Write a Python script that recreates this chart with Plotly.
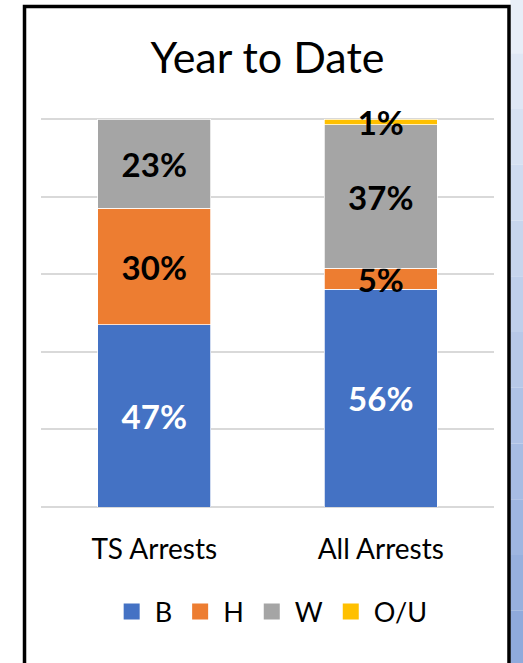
"""Year to Date arrests breakdown, stacked 100% columns."""

import plotly.graph_objects as go

categories = ['TS Arrests', 'All Arrests']
series_names = ['B', 'H', 'W', 'O/U']
b_values = [47, 56.1]
h_values = [30, 5.4]
w_values = [23, 37.1]
ou_values = [None, 1.4]

colors = ['#4472c4', '#ed7d31', '#a5a5a5', '#ffc000']
label_colors = ['white', 'black', 'black', 'black']

fig = go.Figure()
for name, vals, color, lab_color in zip(series_names,
                                        [b_values, h_values, w_values, ou_values],
                                        colors, label_colors):
    fig.add_trace(go.Bar(
        x=categories,
        y=vals,
        name=name,
        showlegend=False,
        marker=dict(color=color, line=dict(color='white', width=0.75)),
        texttemplate='%{y:.0f}%',
        textposition='inside',
        insidetextanchor='middle',
        constraintext='none',
        cliponaxis=False,
        textfont=dict(family='Lato', size=33, color=lab_color, weight='bold'),
    ))

# legend entries with bigger square swatches
for name, color in zip(series_names, colors):
    fig.add_trace(go.Scatter(
        x=[None], y=[None], mode='markers', name=name,
        marker=dict(symbol='square', size=18, color=color),
    ))

# light blue slide background strip on the right (rough gradient)
n_bands = 12
top, bottom = 1.31, -0.41
for i in range(n_bands):
    t = i / (n_bands - 1)
    r = int(232 + (143 - 232) * t)
    g = int(238 + (170 - 238) * t)
    b = int(248 + (220 - 248) * t)
    fig.add_shape(type='rect', xref='paper', yref='paper',
                  x0=1.036, x1=1.1,
                  y0=top - (top - bottom) * (i + 1) / n_bands,
                  y1=top - (top - bottom) * i / n_bands,
                  fillcolor=f'rgb({r},{g},{b})', line_width=0, layer='below')

# black frame around the chart
fig.add_shape(type='rect', xref='paper', yref='paper',
              x0=-0.0364, x1=1.0331, y0=-0.45, y1=1.2866,
              line=dict(color='black', width=3.5))

fig.update_layout(
    width=523,
    height=663,
    barmode='stack',
    bargap=0.5,
    margin=dict(l=41, r=29, t=118, b=156),
    paper_bgcolor='white',
    plot_bgcolor='white',
    font=dict(family='Lato', color='black'),
    title=dict(text='Year to Date', x=0.5, xref='paper', y=1 - 58 / 663,
               yanchor='middle', font=dict(family='Lato', size=43, color='black')),
    xaxis=dict(showgrid=False, showline=False, ticks='',
               tickfont=dict(family='Lato', size=28, color='black'),
               ticklabelstandoff=23),
    yaxis=dict(range=[0, 100.3], tickvals=[0, 20, 40, 60, 80, 100],
               showticklabels=False,
               gridcolor='#d9d9d9', gridwidth=1.5,
               zeroline=True, zerolinecolor='#d9d9d9', zerolinewidth=1.5),
    legend=dict(orientation='h', x=0.507, xanchor='center', y=-0.27,
                yanchor='middle', font=dict(family='Lato', size=27, color='black'),
                itemsizing='trace', itemwidth=36, traceorder='normal'),
    showlegend=True,
)

# drop the browser's default body margin so the figure sits at the page corner
fig.write_html("out.html", config={'displayModeBar': False},
               post_script="document.body.style.margin='0';")
